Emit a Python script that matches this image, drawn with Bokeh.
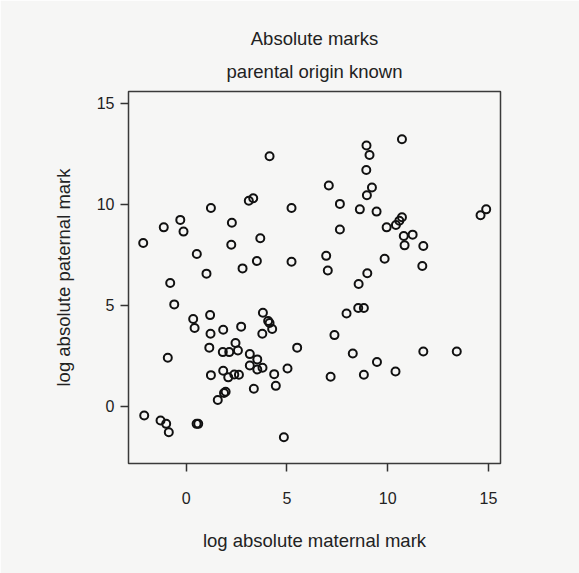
from bokeh.plotting import figure
from bokeh.models import Range1d, Title, FixedTicker
from bokeh.embed import file_html
from bokeh.resources import INLINE

maternal = [4.14, 3.11, 3.33, 1.23, 5.23, -0.29, -1.11, -0.13, 2.27, -2.13,
            3.68, 2.24, 0.53, 3.51, 5.23, 2.80, 1.01, -0.79, 10.71, 8.95,
            9.10, 8.94, 7.08, 9.22, 8.97, 7.63, 8.62, 9.45, 14.89, 14.61,
            10.71, 10.58, 10.41, 9.95, 7.63, 10.80, 11.24, 10.84, 11.77, 6.95,
            9.85, 7.03, 11.72, 8.99, 8.56, 8.54, 8.82, 7.96, 7.36, 5.51,
            8.27, 11.77, 13.43, 9.47, 10.39, 8.82, 7.17, -0.59, 0.35, 1.19,
            0.42, 3.81, 4.07, 4.14, 4.27, 3.78, 2.73, 1.84, 1.21, 2.45,
            2.57, 1.15, 1.82, 2.14, 3.16, 3.53, 3.16, 3.53, 3.79, 4.37,
            5.03, -0.91, 1.84, 1.23, 2.09, 2.39, 2.62, 4.45, 3.36, 1.96,
            1.88, 1.57, -2.08, -1.27, -0.99, -0.86, 0.52, 0.60, 4.85]
paternal = [12.38, 10.18, 10.30, 9.82, 9.82, 9.23, 8.86, 8.65, 9.09, 8.09,
            8.32, 8.00, 7.54, 7.20, 7.16, 6.83, 6.57, 6.11, 13.22, 12.91,
            12.44, 11.70, 10.93, 10.83, 10.45, 10.02, 9.75, 9.64, 9.75, 9.46,
            9.36, 9.19, 8.98, 8.86, 8.75, 8.43, 8.50, 7.97, 7.94, 7.45,
            7.31, 6.73, 6.95, 6.59, 6.06, 4.87, 4.87, 4.60, 3.53, 2.91,
            2.62, 2.72, 2.72, 2.20, 1.73, 1.57, 1.47, 5.05, 4.33, 4.52,
            3.88, 4.64, 4.23, 4.13, 3.83, 3.60, 3.95, 3.80, 3.60, 3.14,
            2.77, 2.91, 2.69, 2.69, 2.59, 2.33, 2.03, 1.83, 1.92, 1.60,
            1.88, 2.41, 1.77, 1.55, 1.44, 1.58, 1.57, 1.02, 0.88, 0.73,
            0.67, 0.32, -0.45, -0.69, -0.86, -1.27, -0.86, -0.86, -1.52]
ticks = [0, 5, 10, 15]
title_line1 = "Absolute marks"
title_line2 = "parental origin known"
x_label = "log absolute maternal mark"
y_label = "log absolute paternal mark"

BG = "#f6f6f5"
FONT = "Liberation Sans"

p = figure(width=579, height=573, output_backend="svg", toolbar_location=None,
           x_range=Range1d(-2.86, 15.6), y_range=Range1d(-2.82, 15.58),
           min_border_left=128, min_border_right=79, min_border_top=91,
           min_border_bottom=110, title=None)
p.background_fill_color = BG
p.border_fill_color = BG
p.outline_line_color = "#3a3a3a"
p.outline_line_width = 1.5
p.grid.visible = False

p.add_layout(Title(text=title_line2, align="center", text_font=FONT,
                   text_font_size="18.5px", text_font_style="normal",
                   text_color="#222222", standoff=20), "above")
p.add_layout(Title(text=title_line1, align="center", text_font=FONT,
                   text_font_size="18.5px", text_font_style="normal",
                   text_color="#222222", standoff=0), "above")

for ax in (p.xaxis[0], p.yaxis[0]):
    ax.ticker = FixedTicker(ticks=ticks)
    ax.minor_tick_line_color = None
    ax.axis_line_color = None
    ax.major_tick_line_color = "#333333"
    ax.major_tick_line_width = 1.5
    ax.major_tick_out = 8
    ax.major_tick_in = 0
    ax.major_label_text_font = FONT
    ax.major_label_text_font_size = "16px"
    ax.major_label_text_color = "#222222"
    ax.axis_label_text_font = FONT
    ax.axis_label_text_font_size = "18.5px"
    ax.axis_label_text_font_style = "normal"
    ax.axis_label_text_color = "#222222"

p.xaxis[0].axis_label = x_label
p.xaxis[0].major_label_standoff = 20
p.xaxis[0].axis_label_standoff = 23
p.yaxis[0].axis_label = y_label
p.yaxis[0].major_label_standoff = 6
p.yaxis[0].major_label_orientation = "horizontal"
p.yaxis[0].axis_label_standoff = 20

p.scatter(maternal, paternal, marker="circle", size=8, fill_color=None,
          line_color="#111111", line_width=2)

open("out.html", "w").write(file_html(p, INLINE))
